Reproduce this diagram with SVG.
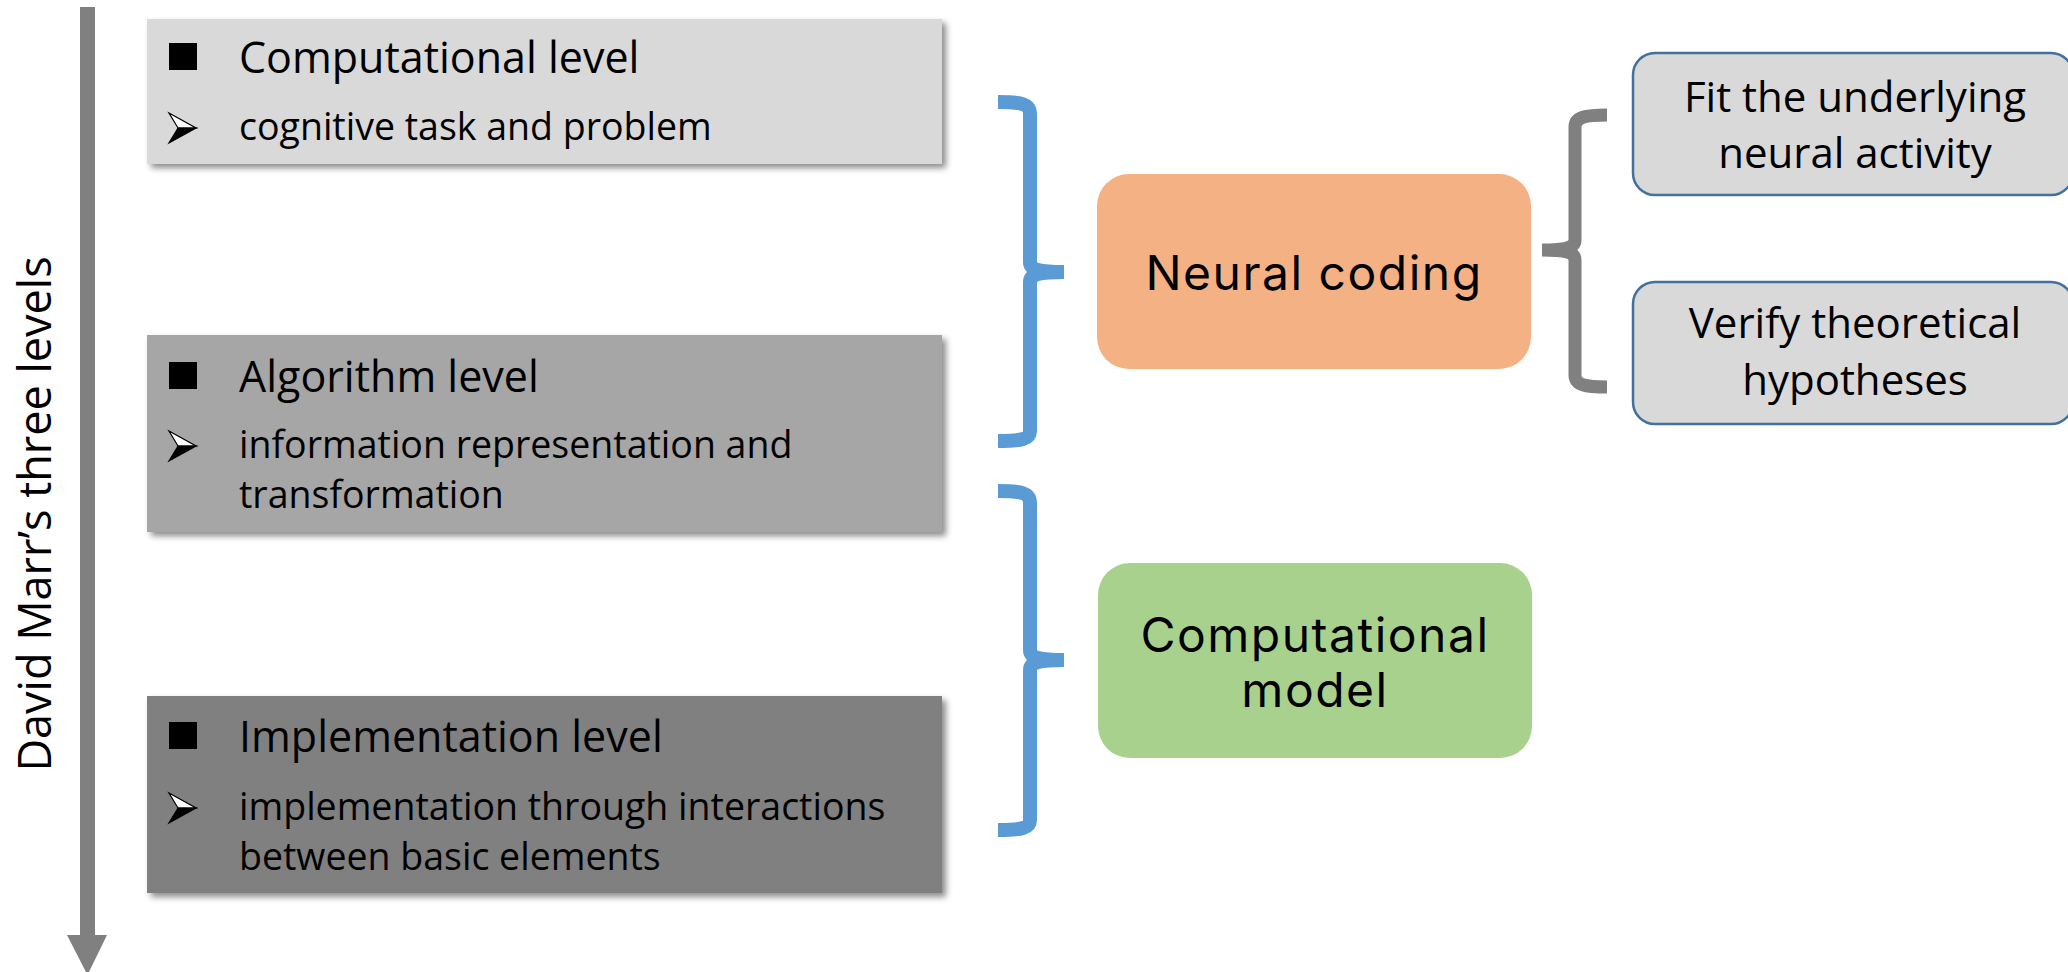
<svg xmlns="http://www.w3.org/2000/svg" width="2068" height="972" viewBox="0 0 2068 972">
<defs>
<filter id="shadow" x="-5%" y="-10%" width="115%" height="130%">
<feDropShadow dx="4" dy="4" stdDeviation="3" flood-color="#000" flood-opacity="0.45"/>
</filter>
<g id="sqb"><rect x="0" y="0" width="28" height="27" fill="#000"/></g>
<g id="arb">
<polygon points="0,0 27,15 9,15" fill="#fff" stroke="#000" stroke-width="1.2" stroke-linejoin="miter"/>
<polygon points="9,15 27,15 0,30" fill="#000" stroke="#000" stroke-width="1.2"/>
</g>
</defs>
<style>
.lvl{font-family:"Open Sans","Liberation Sans",sans-serif;font-size:43px;fill:#000}
.sub{font-family:"Open Sans","Liberation Sans",sans-serif;font-size:37.5px;fill:#000}
.ctr{font-family:Inter,"Liberation Sans",sans-serif;font-size:48px;fill:#000;text-anchor:middle;letter-spacing:1.5px}
.rt{font-family:"Open Sans","Liberation Sans",sans-serif;font-size:42px;fill:#000;text-anchor:middle}
.vt{font-family:"Open Sans","Liberation Sans",sans-serif;font-size:45px;fill:#000;text-anchor:middle}
.blue{fill:none;stroke:#5B9BD5;stroke-width:14}
.gray{fill:none;stroke:#808080;stroke-width:13}
.rbox{fill:#D9D9D9;stroke:#41719C;stroke-width:2.5}
</style>
<g id="axis">
<rect x="80" y="7" width="15" height="930" fill="#808080"/>
<polygon points="67,935 107,935 87.5,975" fill="#808080"/>
<text class="vt" transform="translate(51,514) rotate(-90)">David Marr’s three levels</text>
</g>
<g id="computational-level">
<rect x="147" y="19" width="795" height="145" fill="#D9D9D9" filter="url(#shadow)"/>
<use href="#sqb" x="169" y="43"/>
<text class="lvl" x="239" y="73">Computational level</text>
<use href="#arb" x="169" y="113"/>
<text class="sub" x="239" y="140">cognitive task and problem</text>
</g>
<g id="algorithm-level">
<rect x="147" y="335" width="795" height="197" fill="#A6A6A6" filter="url(#shadow)"/>
<use href="#sqb" x="169" y="362"/>
<text class="lvl" x="239" y="392">Algorithm level</text>
<use href="#arb" x="169" y="431"/>
<text class="sub" x="239" y="458">information representation and</text>
<text class="sub" x="239" y="508">transformation</text>
</g>
<g id="implementation-level">
<rect x="147" y="696" width="795" height="197" fill="#808080" filter="url(#shadow)"/>
<use href="#sqb" x="169" y="722"/>
<text class="lvl" x="239" y="752">Implementation level</text>
<use href="#arb" x="169" y="793"/>
<text class="sub" x="239" y="820">implementation through interactions</text>
<text class="sub" x="239" y="870">between basic elements</text>
</g>
<g id="neural-coding">
<rect x="1097" y="174" width="434" height="195" rx="32" fill="#F4B183"/>
<text class="ctr" x="1314" y="290">Neural coding</text>
</g>
<g id="computational-model">
<rect x="1098" y="563" width="434" height="195" rx="32" fill="#A9D18E"/>
<text class="ctr" x="1315" y="652">Computational</text>
<text class="ctr" x="1315" y="707">model</text>
</g>
<g id="fit">
<rect class="rbox" x="1633" y="53" width="440" height="142" rx="22"/>
<text class="rt" x="1855" y="112">Fit the underlying</text>
<text class="rt" x="1855" y="168">neural activity</text>
</g>
<g id="verify">
<rect class="rbox" x="1633" y="282" width="440" height="142" rx="22"/>
<text class="rt" x="1855" y="338">Verify theoretical</text>
<text class="rt" x="1855" y="395">hypotheses</text>
</g>
<g id="connectors">
<path class="blue" d="M998,102 C1022,102 1030,104 1030,114 L1030,262 C1030,270 1040,272 1064,272 C1040,272 1030,274 1030,282 L1030,431 C1030,439 1022,441 998,441"/>
<path class="blue" d="M998,491 C1022,491 1030,493 1030,503 L1030,650 C1030,658 1040,660 1064,660 C1040,660 1030,662 1030,670 L1030,820 C1030,828 1022,830 998,830"/>
<path class="gray" d="M1607,115 C1585,115 1575,117 1575,127 L1575,240 C1575,248 1565,250 1542,250 C1565,250 1575,252 1575,260 L1575,375 C1575,385 1585,387 1607,387"/>
</g>
</svg>
